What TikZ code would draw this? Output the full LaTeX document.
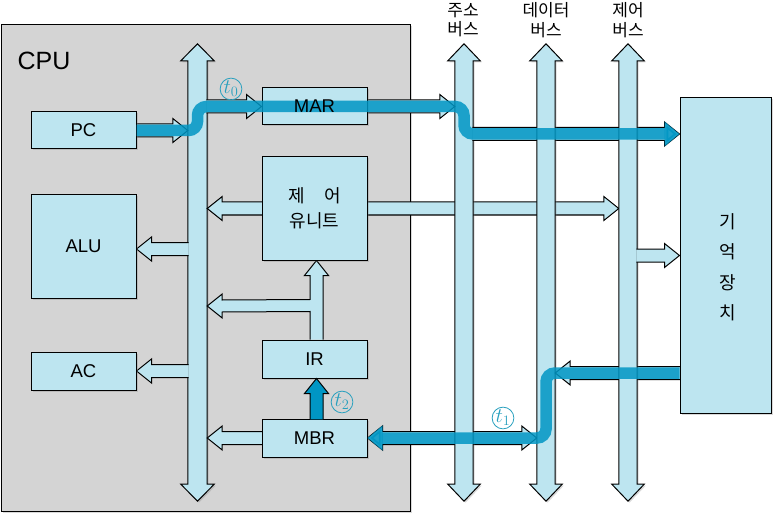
\documentclass[tikz,border=0pt]{standalone}
\usepackage{fontspec}
\setmainfont{Liberation Sans}
\newfontfamily\kr{Noto Sans CJK KR}
\usetikzlibrary{positioning,calc,arrows.meta,shadows}

\definecolor{boxblue}{RGB}{189,229,240}
\definecolor{cpugray}{RGB}{212,212,212}
\definecolor{flowblue}{RGB}{0,150,196}
\definecolor{tickblue}{RGB}{40,160,190}

\pgfdeclarelayer{bottom}
\pgfdeclarelayer{back}
\pgfsetlayers{bottom,back,main}

\tikzset{
  softshadow/.style={drop shadow={shadow xshift=1.5pt, shadow yshift=-1.5pt, opacity=0.3}},
  unit/.style={draw, fill=boxblue, line width=1pt, inner sep=0pt, softshadow,
    font=\fontsize{18.5}{22}\selectfont},
  cpubox/.style={draw, fill=cpugray, line width=1pt, softshadow},
  shaft/.style={inner sep=0pt, minimum height=423pt},
  busline/.style={draw, fill=boxblue, line width=1pt, softshadow},
  fat/.style={draw, fill=boxblue, line width=1pt},
  flow/.style={draw=flowblue, line width=11.5pt, opacity=0.85, rounded corners=9pt},
  flowtip/.style={-{Triangle[length=15pt, width=24pt]}},
  tmark/.style={circle, draw=tickblue, text=tickblue, line width=0.8pt, inner sep=0pt,
    minimum size=18pt, font=\fontsize{20}{20}\selectfont},
  buslabel/.style={align=center, font=\kr\fontsize{17}{19.5}\selectfont},
}

% wide hollow arrow from #2 to the tip #3
\newcommand{\fatarrow}[3][fat]{%
  \coordinate (fa-s) at ($#2!-0.8pt!#3$);
  \coordinate (fa-b) at ($#3!15pt!#2$);
  \path[#1] ($(fa-s)!6.5pt!90:#3$) -- ($(fa-b)!6.5pt!90:#3$) -- ($(fa-b)!12pt!90:#3$)
    -- #3 -- ($(fa-b)!12pt!-90:#3$) -- ($(fa-b)!6.5pt!-90:#3$) -- ($(fa-s)!6.5pt!-90:#3$);
}
% wide hollow arrow with a head at both ends
\newcommand{\fatboth}[3][fat]{%
  \coordinate (fb-a) at ($#2!15pt!#3$);
  \coordinate (fb-b) at ($#3!15pt!#2$);
  \path[#1] #2 -- ($(fb-a)!12pt!90:#3$) -- ($(fb-a)!6.5pt!90:#3$) -- ($(fb-b)!6.5pt!-90:#2$)
    -- ($(fb-b)!12pt!-90:#2$) -- #3 -- ($(fb-b)!12pt!90:#2$) -- ($(fb-b)!6.5pt!90:#2$)
    -- ($(fb-a)!6.5pt!-90:#3$) -- ($(fb-a)!12pt!-90:#3$) -- cycle;
}
% vertical bus with heads on both ends
\newcommand{\drawbus}[1]{%
  \path[busline] (#1.north west) -- ++(-7,0) -- ($(#1.north)+(0,-17)$) -- ($(#1.north east)+(7,0)$)
    -- (#1.north east) -- (#1.south east) -- ++(7,0) -- ($(#1.south)+(0,17)$)
    -- ($(#1.south west)+(-7,0)$) -- (#1.south west) -- cycle;
}

\begin{document}
\begin{tikzpicture}[x=1pt, y=-1pt]

\useasboundingbox (0,0) rectangle (776,513);

% CPU frame
\begin{pgfonlayer}{bottom}
\node[cpubox, minimum width=409pt, minimum height=486pt] (cpu) at (205.5,268) {};
\end{pgfonlayer}
\node[font=\fontsize{25}{30}\selectfont] (cpulabel) at (44,61) {CPU};

% bus shafts
\node[shaft, minimum width=19pt] (ibus) at (197.5,272.5) {};
\node[shaft, minimum width=18pt] (abus) at (464,272.5) {};
\node[shaft, minimum width=18pt] (dbus) at (546,272.5) {};
\node[shaft, minimum width=18pt] (cbus) at (628,272.5) {};

\node[buslabel] (alabel) at (463,20) {주소\\버스};
\node[buslabel] (dlabel) at (546,20) {데이터\\버스};
\node[buslabel] (clabel) at (628,20) {제어\\버스};

% registers and units
\node[unit, minimum width=105pt, minimum height=37pt] (pc) at (83.5,130.5) {PC};
\node[unit, minimum width=105pt, minimum height=103pt] (alu) at (83.5,246.5) {ALU};
\node[unit, minimum width=105pt, minimum height=38pt] (ac) at (83.5,371) {AC};
\node[unit, minimum width=105pt, minimum height=37pt] (mar) at (314.5,106.5) {};
\node[unit, minimum width=105pt, minimum height=103pt, align=center,
  font=\kr\fontsize{18}{25}\selectfont] (cu) at (314.5,208.5) {제\hspace{1.1em}어\\유니트};
\node[unit, minimum width=105pt, minimum height=38pt] (ir) at (314.5,359) {IR};
\node[unit, minimum width=105pt, minimum height=38pt] (mbr) at (314.5,438) {MBR};
\node[unit, minimum width=91pt, minimum height=315pt] (memory) at (725.5,255.5) {};
\node[align=center, font=\kr\fontsize{18}{30.5}\selectfont] (memtext)
  at ($(memory.center)+(2,12)$) {기\\억\\장\\치};

% connector ends
\coordinate (ibus-pc) at (ibus.west |- pc.east);
\coordinate (ibus-mar) at (ibus.east |- mar.west);
\coordinate (abus-mar) at (abus.west |- mar.east);
\coordinate (abus-mem) at (abus.east |- 0,134);
\coordinate (mem-a) at (memory.west |- 0,134);
\coordinate (mem-d) at (memory.west |- 0,373);
\coordinate (dbus-mem) at (dbus.east |- 0,373);
\coordinate (dbus-mbr) at (dbus.west |- mbr.east);
\coordinate (ibus-cu) at (ibus.east |- cu.west);
\coordinate (cbus-cu) at (cbus.west |- cu.east);
\coordinate (ibus-alu) at (ibus.west |- 0,249);
\coordinate (alu-in) at (alu.east |- 0,249);
\coordinate (ibus-ac) at (ibus.west |- ac.east);
\coordinate (ibus-mbr) at (ibus.east |- mbr.west);
\coordinate (cbus-mem) at (cbus.east |- memory.west);
\coordinate (ibus-ir) at (ibus.east |- 0,306);
\coordinate (ir-up) at ($(ir.north)+(2,0)$);
\coordinate (cu-dn) at ($(cu.south)+(2,0)$);
\coordinate (mbr-up) at ($(mbr.north)+(2,0)$);
\coordinate (ir-dn) at ($(ir.south)+(2,0)$);

\begin{pgfonlayer}{back}
\drawbus{ibus}
\fatarrow{(cu.east)}{(cbus-cu)}
\fatboth{(mbr.east)}{(dbus-mbr)}
\drawbus{abus}
\fatarrow{(abus-mem)}{(mem-a)}
\drawbus{dbus}
\fatarrow{(mem-d)}{(dbus-mem)}
\drawbus{cbus}
\fatarrow{(cbus-mem)}{(memory.west)}
% inside the CPU
\fatarrow{(cu.west)}{(ibus-cu)}
\fatarrow{(ibus-alu)}{(alu-in)}
\fatarrow{(ibus-ac)}{(ac.east)}
\fatarrow{(mbr.west)}{(ibus-mbr)}
\fatarrow{(pc.east)}{(ibus-pc)}
\fatarrow{(ibus-mar)}{(mar.west)}
\fatarrow{(mar.east)}{(abus-mar)}
\path[fat] ($(ir-up)+(-6.5,0)$) -- ($(ir-up)+(-6.5,-28)$) -- ($(ibus-ir)+(15,6)$)
  -- ($(ibus-ir)+(15,12)$) -- (ibus-ir) -- ($(ibus-ir)+(15,-12)$) -- ($(ibus-ir)+(15,-6)$)
  -- ($(ir-up)+(-6.5,-40)$) -- ($(cu-dn)+(-6.5,15)$) -- ($(cu-dn)+(-12,15)$) -- (cu-dn)
  -- ($(cu-dn)+(12,15)$) -- ($(cu-dn)+(6.5,15)$) -- ($(ir-up)+(6.5,0)$);
\end{pgfonlayer}

% t0, t1, t2 transfers
\fatarrow[fat, fill=flowblue]{(mbr-up)}{(ir-dn)}
\draw[flow, flowtip] (pc.east) -- (ibus.center |- pc.east) -- (ibus.center |- mar.west)
  -- (abus.center |- mar.east) -- (abus.center |- mem-a) -- (mem-a);
\draw[flow, flowtip] (mem-d) -- (dbus.center |- mem-d) -- (dbus.center |- mbr.east) -- (mbr.east);
\node[font=\fontsize{18.5}{22}\selectfont] (marlabel) at (mar.center) {MAR};

\node[tmark] (t0) at (231,89) {$t_0$};
\node[tmark] (t1) at (503,418) {$t_1$};
\node[tmark] (t2) at (342,402) {$t_2$};

\end{tikzpicture}
\end{document}
